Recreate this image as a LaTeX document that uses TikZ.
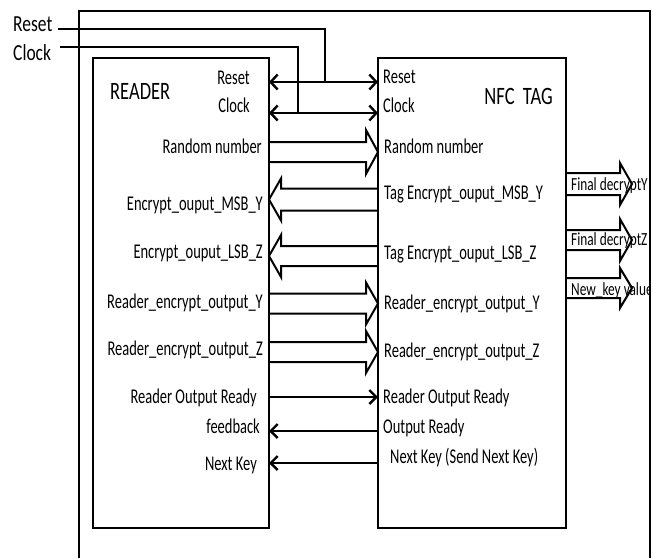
\documentclass[tikz,border=0pt]{standalone}
\usepackage{fontspec}
\setmainfont{Carlito}[FakeStretch=0.69]
\newfontfamily\sidef{Carlito}[FakeStretch=0.76]
\newfontfamily\titlef{Carlito}[FakeStretch=0.74]
\newfontfamily\outf{Carlito}[FakeStretch=0.72]
\usetikzlibrary{arrows.meta,calc}
\tikzset{
  box/.style={draw, line width=2.8pt, minimum width=#1, minimum height=470pt, inner sep=0pt, outer sep=0pt},
  fat/.style={draw, line width=2pt, line join=miter},
  wire/.style={draw, line width=2.4pt},
  thin/.style={draw, line width=2.4pt, -{Straight Barb[length=7pt,width=14pt,line width=2.4pt]}},
  both/.style={draw, line width=2.4pt, {Straight Barb[length=7pt,width=15pt,line width=2.4pt]}-{Straight Barb[length=7pt,width=15pt,line width=2.4pt]}},
  lbl/.style={inner sep=0pt, font=\fontsize{21}{25}\selectfont},
  lL/.style={lbl, anchor=base east},
  lR/.style={lbl, anchor=base west},
  big/.style={inner sep=0pt, font=\titlef\fontsize{25}{30}\selectfont},
  side/.style={inner sep=0pt, anchor=base west, font=\sidef\fontsize{23}{28}\selectfont},
  outl/.style={inner sep=0pt, anchor=base west, font=\outf\fontsize{18.5}{22}\selectfont},
}
% fat block arrow from tail coordinate #1 to tip coordinate #2; #3 half shaft, #4 half head
\newcommand\fatarrow[4]{%
  \draw[fat] let \p1=(#1), \p2=(#2), \n1={ifthenelse(\x2>\x1,1,-1)} in
    (\x1,\y1+#3) -- (\x2-\n1*12pt,\y1+#3) -- (\x2-\n1*12pt,\y1+#4) -- (\x2,\y1)
    -- (\x2-\n1*12pt,\y1-#4) -- (\x2-\n1*12pt,\y1-#3) -- (\x1,\y1-#3);}
\begin{document}
\begin{tikzpicture}[x=1pt,y=-1pt]
\useasboundingbox (0,0) rectangle (653,558);
% outer frame
\draw[line width=2.6pt] (79,558) -- (79,11) -- (650,11) -- (650,558);
% boxes
\node[box=176pt] (reader) at (181,293) {};
\node[box=188pt] (tag) at (472,293) {};
% titles
\node[big, anchor=base west] (rtitle) at (110,99) {READER};
\node[big, anchor=base east] (ttitle) at (553,104) {NFC\ \ TAG};
% global inputs
\node[side] (greset) at (13,31) {Reset};
\node[side] (gclock) at (13,60) {Clock};
\coordinate (resetin) at (58,29);
\coordinate (clockin) at (60,47);
\coordinate (resetJ) at (325,82);
\coordinate (clockJ) at (298,113);
\draw[wire] (resetin) -| (resetJ);
\draw[wire] (clockin) -| (clockJ);
% reset / clock double arrows
\draw[both] (reader.east |- resetJ) -- (tag.west |- resetJ);
\draw[both] (reader.east |- clockJ) -- (tag.west |- clockJ);
% fat arrows between boxes
\coordinate (a1) at (reader.east |- 0,152);   \coordinate (b1) at (tag.west |- 0,152);
\coordinate (a2) at (reader.east |- 0,199.5); \coordinate (b2) at (tag.west |- 0,199.5);
\coordinate (a3) at (reader.east |- 0,256);   \coordinate (b3) at (tag.west |- 0,256);
\coordinate (a4) at (reader.east |- 0,303.5); \coordinate (b4) at (tag.west |- 0,303.5);
\coordinate (a5) at (reader.east |- 0,352);   \coordinate (b5) at (tag.west |- 0,352);
\fatarrow{a1}{b1}{10pt}{22pt}
\fatarrow{b2}{a2}{11pt}{21pt}
\fatarrow{b3}{a3}{10pt}{21pt}
\fatarrow{a4}{b4}{10pt}{21pt}
\fatarrow{a5}{b5}{10pt}{21pt}
% output fat arrows
\coordinate (o1) at (tag.east |- 0,184); \coordinate (p1) at (632,184);
\coordinate (o2) at (tag.east |- 0,240); \coordinate (p2) at (632,240);
\coordinate (o3) at (tag.east |- 0,288); \coordinate (p3) at (632,288);
\fatarrow{o1}{p1}{11pt}{21pt}
\fatarrow{o2}{p2}{10pt}{21pt}
\fatarrow{o3}{p3}{10pt}{20pt}
% thin arrows
\draw[thin] (reader.east |- 0,397) -- (tag.west |- 0,397);
\draw[thin] (tag.west |- 0,431) -- (reader.east |- 0,431);
\draw[thin] (tag.west |- 0,463) -- (reader.east |- 0,463);
% reader labels
\node[lL] at (250,84) {Reset};
\node[lL] at (250,112) {Clock};
\node[lL] at (262,153) {Random number};
\node[lL] at (263,210) {Encrypt\_ouput\_MSB\_Y};
\node[lL] at (263,258) {Encrypt\_ouput\_LSB\_Z};
\node[lL] at (263,308) {Reader\_encrypt\_output\_Y};
\node[lL] at (263,355) {Reader\_encrypt\_output\_Z};
\node[lL] at (257,403) {Reader Output Ready};
\node[lL] at (260,433) {feedback};
\node[lL] at (257,470) {Next Key};
% tag labels
\node[lR] at (383,83) {Reset};
\node[lR] at (383,112) {Clock};
\node[lR] at (384,153) {Random number};
\node[lR] at (384,199) {Tag Encrypt\_ouput\_MSB\_Y};
\node[lR] at (384,259) {Tag Encrypt\_ouput\_LSB\_Z};
\node[lR] at (384,309) {Reader\_encrypt\_output\_Y};
\node[lR] at (384,357) {Reader\_encrypt\_output\_Z};
\node[lR] at (383,403) {Reader Output Ready};
\node[lR] at (383,433) {Output Ready};
\node[lR] at (390,463) {Next Key (Send Next Key)};
% output labels (clipped by frame)
\begin{scope}
\clip (567,0) rectangle (649,558);
\node[outl] at (571,190) {Final decryptY};
\node[outl] at (571,245) {Final decryptZ};
\node[outl] at (571,295) {New\_key value};
\end{scope}
\end{tikzpicture}
\end{document}
